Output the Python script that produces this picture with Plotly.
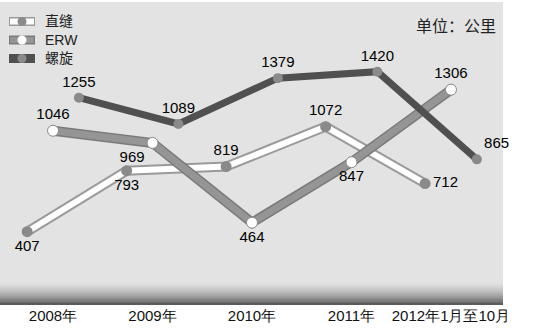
import plotly.graph_objects as go

categories = ["2008年", "2009年", "2010年", "2011年", "2012年1月至10月"]
zhifeng = [407, 793, 819, 1072, 712]      # 直缝
erw = [1046, 969, 464, 847, 1306]         # ERW
luoxuan = [1255, 1089, 1379, 1420, 865]   # 螺旋
series_names = ["直缝", "ERW", "螺旋"]

idx = list(range(len(categories)))
FONT = "Liberation Sans Narrow, Arial Narrow, Liberation Sans, Arial, sans-serif"

def shifted(off):
    return [i + off for i in idx]

fig = go.Figure()

# 直缝: white tube with grey outline
fig.add_trace(go.Scatter(x=shifted(-0.26), y=zhifeng, mode="lines",
                         line=dict(color="#9a9a9a", width=10),
                         showlegend=False, hoverinfo="skip", cliponaxis=False))
fig.add_trace(go.Scatter(x=shifted(-0.26), y=zhifeng, mode="lines+markers+text",
                         name=series_names[0], cliponaxis=False,
                         line=dict(color="#ffffff", width=6),
                         marker=dict(color="#8a8a8a", size=11),
                         text=[str(v) for v in zhifeng],
                         textposition=["bottom center", "bottom center", "top center", "top center", "middle right"],
                         textfont=dict(size=15, color="#000", family=FONT)))

# ERW
fig.add_trace(go.Scatter(x=shifted(0), y=erw, mode="lines",
                         line=dict(color="#7a7a7a", width=10),
                         showlegend=False, hoverinfo="skip", cliponaxis=False))
fig.add_trace(go.Scatter(x=shifted(0), y=erw, mode="lines+markers+text",
                         name=series_names[1], cliponaxis=False,
                         line=dict(color="#959595", width=7),
                         marker=dict(color="#ffffff", size=11, line=dict(color="#888", width=1)),
                         text=[str(v) for v in erw],
                         textposition=["top center", "bottom left", "bottom center", "bottom center", "top center"],
                         textfont=dict(size=15, color="#000", family=FONT)))

# 螺旋
fig.add_trace(go.Scatter(x=shifted(0.26), y=luoxuan, mode="lines+markers+text",
                         name=series_names[2], cliponaxis=False,
                         line=dict(color="#505050", width=7),
                         marker=dict(color="#8a8a8a", size=10),
                         text=[str(v) for v in luoxuan],
                         textposition=["top center", "top center", "top center", "top center", "top right"],
                         textfont=dict(size=15, color="#000", family=FONT)))

# bottom shadow band (decoration)
n = 12
band_top = 0.075
for k in range(n):
    y0 = band_top * k / n
    y1 = band_top * (k + 1) / n
    op = 0.6 * (1 - k / n) ** 1.6
    fig.add_shape(type="rect", xref="paper", yref="paper", x0=0, x1=1, y0=y0, y1=y1,
                  fillcolor="black", opacity=op, line=dict(width=0), layer="below")

# custom legend (keys + labels)
PW, PH, PB = 503.0, 303.0, 305.0
def px(xp):
    return xp / PW
def py(yp):
    return (PB - yp) / PH

legend_rows = [21.5, 40, 58.5]
legend_style = [
    dict(outer="#9a9a9a", inner="#ffffff", dot="#8a8a8a"),
    dict(outer="#7a7a7a", inner="#959595", dot="#ffffff"),
    dict(outer="#505050", inner="#505050", dot="#8a8a8a"),
]
for name, yrow, st in zip(series_names, legend_rows, legend_style):
    fig.add_shape(type="line", xref="paper", yref="paper", x0=px(9), x1=px(35),
                  y0=py(yrow), y1=py(yrow), line=dict(color=st["outer"], width=9))
    fig.add_shape(type="line", xref="paper", yref="paper", x0=px(10), x1=px(34),
                  y0=py(yrow), y1=py(yrow), line=dict(color=st["inner"], width=6))
    fig.add_shape(type="circle", xref="paper", yref="paper", xsizemode="pixel", ysizemode="pixel",
                  xanchor=px(22), yanchor=py(yrow), x0=-4.5, x1=4.5, y0=-4.5, y1=4.5,
                  fillcolor=st["dot"], line=dict(width=0))
    fig.add_annotation(text=name, xref="paper", yref="paper", x=px(43), y=py(yrow),
                       xanchor="left", yanchor="middle", showarrow=False,
                       font=dict(size=14, color="#222", family="Liberation Sans, Noto Sans CJK SC"))

fig.add_annotation(text="单位：公里", xref="paper", yref="paper", x=0.99, y=0.97,
                   xanchor="right", yanchor="top", showarrow=False,
                   font=dict(size=16, color="#222", family="Noto Sans CJK SC"))

fig.update_layout(
    width=547, height=335,
    margin=dict(l=0, r=44, t=2, b=30),
    paper_bgcolor="white",
    plot_bgcolor="#e3e3e3",
    showlegend=False,
    xaxis=dict(range=[-0.533, 4.523], tickvals=idx, ticktext=categories,
               showgrid=False, zeroline=False, showline=False, ticks="",
               tickfont=dict(size=15, color="#111", family=FONT), fixedrange=True),
    yaxis=dict(range=[-57, 1861], visible=False, showgrid=False, zeroline=False),
)

fig.write_html("out.html")
